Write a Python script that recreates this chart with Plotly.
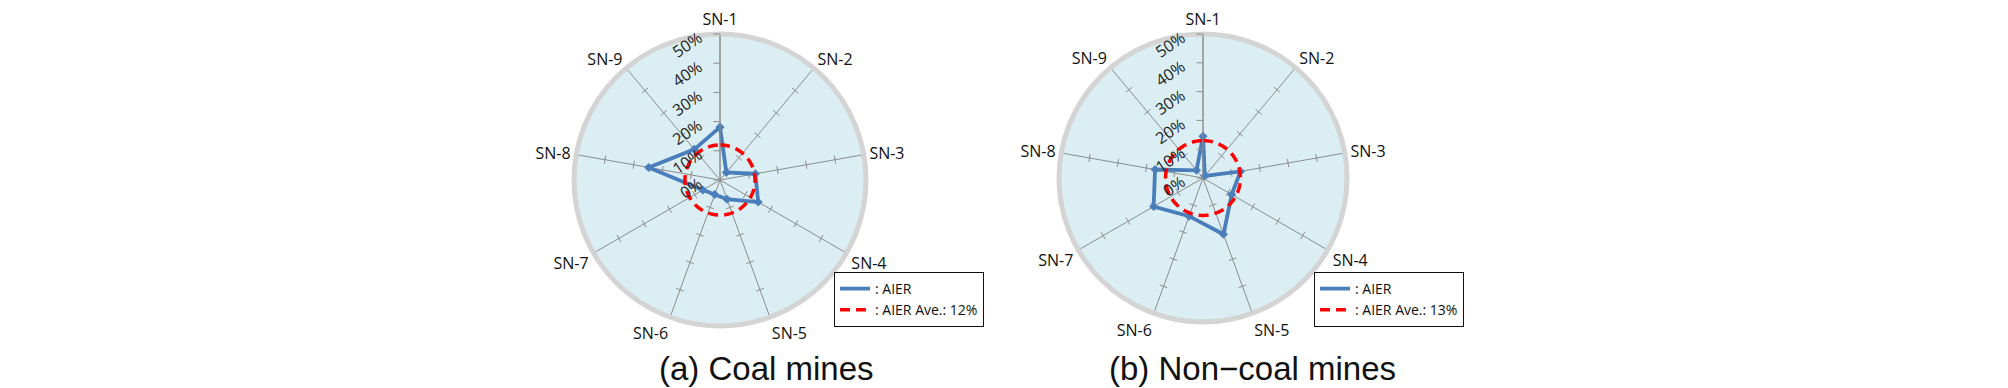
import math
import plotly.graph_objects as go

# ---------------- data ----------------
categories = ["SN-1", "SN-2", "SN-3", "SN-4", "SN-5", "SN-6", "SN-7", "SN-8", "SN-9"]
coal_aier = [18.1, 3.4, 12.3, 15.1, 7.0, 5.3, 6.8, 24.8, 13.7]
noncoal_aier = [14.5, 1.0, 13.2, 11.5, 20.8, 14.1, 19.8, 16.9, 3.5]
coal_ave = 12
noncoal_ave = 13
radial_ticks = [0, 10, 20, 30, 40, 50]
radial_ticktext = ["0%", "10%", "20%", "30%", "40%", "50%"]
titles = ["(a) Coal mines", "(b) Non\u2212coal mines"]
legend_names_coal = [": AIER", ": AIER Ave.: 12%"]
legend_names_noncoal = [": AIER", ": AIER Ave.: 13%"]

W, H = 2008, 388
RMAX = 50
STEP = 360 / len(categories)
thetas = [i * STEP for i in range(len(categories))]

BLUE = "#4a7ebb"
RED = "#ff0000"
GRID = "#8c8c8c"
BG = "#daeef3"
RING = "#d4d4d4"

panels = [
    dict(cx=712, cy=172, R=146, vals=coal_aier, ave=coal_ave, names=legend_names_coal,
         legend="legend", polar="polar", lx=826, ly=264, tx=758),
    dict(cx=1195, cy=170, R=144, vals=noncoal_aier, ave=noncoal_ave, names=legend_names_noncoal,
         legend="legend2", polar="polar2", lx=1306, ly=264, tx=1244),
]

fig = go.Figure()


def spoke_ticks(R_px, half_len=4):
    ppu = R_px / RMAX
    th_list, r_list = [], []
    for th in thetas[1:]:
        for v in radial_ticks[1:]:
            rp = v * ppu
            d = math.degrees(math.atan(half_len / rp))
            rr = math.hypot(rp, half_len) / ppu
            th_list += [th - d, th + d, None]
            r_list += [rr, rr, None]
    return th_list, r_list


for p in panels:
    sub = p["polar"]
    tt, rr = spoke_ticks(p["R"])
    fig.add_trace(go.Scatterpolar(
        theta=tt, r=rr, mode="lines", line=dict(color=GRID, width=1),
        showlegend=False, hoverinfo="skip", subplot=sub, cliponaxis=False))
    closed_t = thetas + [thetas[0]]
    closed_r = p["vals"] + [p["vals"][0]]
    fig.add_trace(go.Scatterpolar(
        theta=closed_t, r=closed_r, mode="lines", name=p["names"][0],
        line=dict(color=BLUE, width=3.8), subplot=sub, legend=p["legend"]))
    fig.add_trace(go.Scatterpolar(
        theta=thetas, r=p["vals"], mode="markers", showlegend=False,
        marker=dict(symbol="diamond", size=7, color=BLUE), subplot=sub))
    circ_t = [i for i in range(0, 361, 2)]
    fig.add_trace(go.Scatterpolar(
        theta=circ_t, r=[p["ave"]] * len(circ_t), mode="lines", name=p["names"][1],
        line=dict(color=RED, width=3.5, dash="10px,6px"),
        subplot=sub, legend=p["legend"], hoverinfo="skip"))

layout = dict(
    width=W, height=H, margin=dict(l=0, r=0, t=0, b=0),
    paper_bgcolor="white", plot_bgcolor="white",
    font=dict(family="Open Sans, Arial, sans-serif", color="#222"),
)

for p in panels:
    dom = dict(x=[(p["cx"] - p["R"]) / W, (p["cx"] + p["R"]) / W],
               y=[1 - (p["cy"] + p["R"]) / H, 1 - (p["cy"] - p["R"]) / H])
    layout[p["polar"]] = dict(
        domain=dom, bgcolor=BG,
        radialaxis=dict(range=[0, RMAX], tickvals=radial_ticks, ticktext=radial_ticktext,
                        angle=90, tickangle=56, side="counterclockwise",
                        showgrid=False, showline=True, linecolor=GRID, linewidth=1,
                        ticks="outside", ticklen=6, tickcolor=GRID,
                        tickfont=dict(size=16, color="#222")),
        angularaxis=dict(tickmode="array", tickvals=thetas, ticktext=categories,
                         rotation=90, direction="clockwise",
                         showgrid=True, gridcolor=GRID, gridwidth=1,
                         showline=True, linecolor=RING, linewidth=5,
                         ticks="", tickfont=dict(size=16, color="#111")),
    )
    layout[p["legend"]] = dict(
        x=p["lx"] / W, y=1 - p["ly"] / H, xanchor="left", yanchor="top",
        bgcolor="white", bordercolor="#111", borderwidth=1,
        font=dict(size=14, color="#111"), tracegroupgap=0,
    )

fig.update_layout(**layout)

for p, t in zip(panels, titles):
    fig.add_annotation(text=t, x=p["tx"] / W, y=1 - 360 / H, xref="paper", yref="paper",
                       xanchor="center", yanchor="middle", showarrow=False,
                       font=dict(family="Liberation Sans, Arial, sans-serif", size=33, color="#111"))

fig.write_html("out.html")
